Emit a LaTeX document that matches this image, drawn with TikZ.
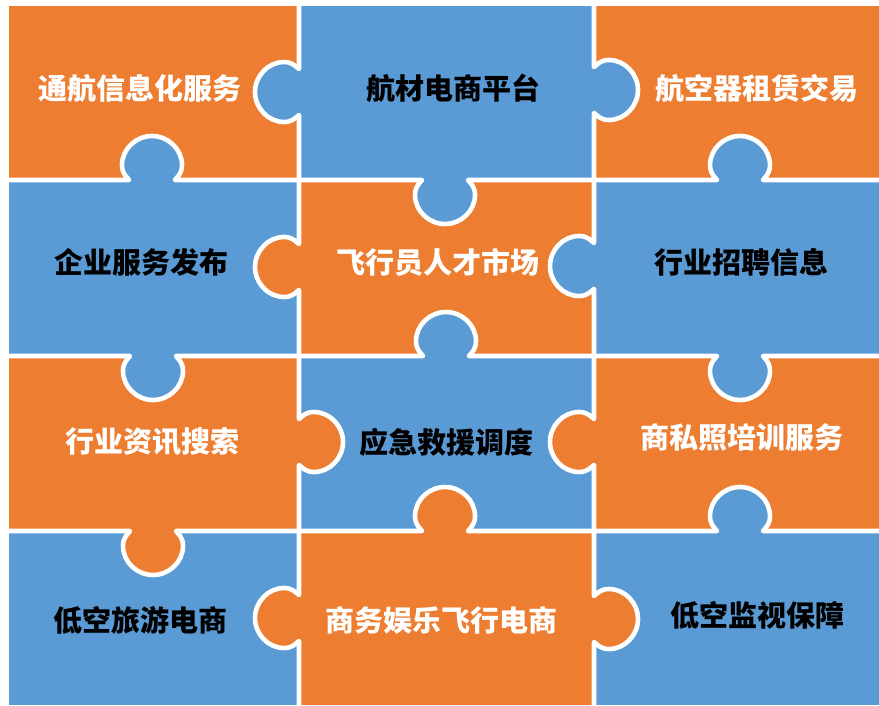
\documentclass[tikz,border=0pt]{standalone}
\usepackage{fontspec}
\newfontfamily\cjk{Noto Sans CJK SC}
\definecolor{pzorange}{HTML}{ED7D31}
\definecolor{pzblue}{HTML}{5B9BD5}
% tab on a vertical seam at x=#1, centre y=#2, bulging towards x direction #3
\newcommand\tabV[3]{%
 -- ({#1},{#2-23})
 .. controls ({#1+(#3)*3},{#2-25}) and ({#1+(#3)*6},{#2-30}) .. ({#1+(#3)*15},{#2-30})
 .. controls ({#1+(#3)*31},{#2-30}) and ({#1+(#3)*44},{#2-16}) .. ({#1+(#3)*44},{#2})
 .. controls ({#1+(#3)*44},{#2+16}) and ({#1+(#3)*31},{#2+30}) .. ({#1+(#3)*15},{#2+30})
 .. controls ({#1+(#3)*6},{#2+30}) and ({#1+(#3)*3},{#2+25}) .. ({#1},{#2+23})}
% tab on a horizontal seam at y=#2, centre x=#1, bulging towards y direction #3
\newcommand\tabH[3]{%
 -- ({#1-23},{#2})
 .. controls ({#1-25},{#2+(#3)*3}) and ({#1-30},{#2+(#3)*6}) .. ({#1-30},{#2+(#3)*15})
 .. controls ({#1-30},{#2+(#3)*31}) and ({#1-16},{#2+(#3)*44}) .. ({#1},{#2+(#3)*44})
 .. controls ({#1+16},{#2+(#3)*44}) and ({#1+30},{#2+(#3)*31}) .. ({#1+30},{#2+(#3)*15})
 .. controls ({#1+30},{#2+(#3)*6}) and ({#1+25},{#2+(#3)*3}) .. ({#1+23},{#2})}
\tikzset{
 seam/.style={draw=white,line width=4.6pt,line join=round},
 wt/.style={font=\cjk\bfseries\fontsize{29}{31}\selectfont,text=white,inner sep=0pt},
 bt/.style={font=\cjk\bfseries\fontsize{29}{31}\selectfont,text=black,inner sep=0pt}
}
\begin{document}
\begin{tikzpicture}[x=1pt,y=-1pt]
\useasboundingbox (0,0) rectangle (879,705);
\fill[white] (0,0) rectangle (879,705);
% cells
\fill[pzorange] (9,6) rectangle (299,180);
\fill[pzblue]   (299,6) rectangle (594,180);
\fill[pzorange] (594,6) rectangle (879,180);
\fill[pzblue]   (9,180) rectangle (299,356);
\fill[pzorange] (299,180) rectangle (594,356);
\fill[pzblue]   (594,180) rectangle (879,356);
\fill[pzorange] (9,356) rectangle (299,531);
\fill[pzblue]   (299,356) rectangle (594,531);
\fill[pzorange] (594,356) rectangle (879,531);
\fill[pzblue]   (9,531) rectangle (299,705);
\fill[pzorange] (299,531) rectangle (594,705);
\fill[pzblue]   (594,531) rectangle (879,705);
% tabs
\fill[pzblue]   (299,92) \tabV{299}{92}{-1} -- cycle;
\fill[pzorange] (299,267) \tabV{299}{267}{-1} -- cycle;
\fill[pzorange] (299,442) \tabV{299}{442}{1} -- cycle;
\fill[pzorange] (299,618) \tabV{299}{618}{-1} -- cycle;
\fill[pzblue]   (594,90) \tabV{594}{90}{1} -- cycle;
\fill[pzblue]   (594,266) \tabV{594}{266}{-1} -- cycle;
\fill[pzorange] (594,442) \tabV{594}{442}{-1} -- cycle;
\fill[pzorange] (594,619) \tabV{594}{619}{1} -- cycle;
\fill[pzblue]   (152,180) \tabH{152}{180}{-1} -- cycle;
\fill[pzblue]   (445,180) \tabH{445}{180}{1} -- cycle;
\fill[pzblue]   (740,180) \tabH{740}{180}{-1} -- cycle;
\fill[pzblue]   (153,356) \tabH{153}{356}{1} -- cycle;
\fill[pzblue]   (446,356) \tabH{446}{356}{-1} -- cycle;
\fill[pzblue]   (740,356) \tabH{740}{356}{1} -- cycle;
\fill[pzorange] (153,531) \tabH{153}{531}{1} -- cycle;
\fill[pzorange] (445,531) \tabH{445}{531}{-1} -- cycle;
\fill[pzblue]   (740,531) \tabH{740}{531}{-1} -- cycle;
% seams
\path[seam] (299,0) \tabV{299}{92}{-1} \tabV{299}{267}{-1} \tabV{299}{442}{1} \tabV{299}{618}{-1} -- (299,705);
\path[seam] (594,0) \tabV{594}{90}{1} \tabV{594}{266}{-1} \tabV{594}{442}{-1} \tabV{594}{619}{1} -- (594,705);
\path[seam] (0,180) \tabH{152}{180}{-1} \tabH{445}{180}{1} \tabH{740}{180}{-1} -- (879,180);
\path[seam] (0,356) \tabH{153}{356}{1} \tabH{446}{356}{-1} \tabH{740}{356}{1} -- (879,356);
\path[seam] (0,531) \tabH{153}{531}{1} \tabH{445}{531}{-1} \tabH{740}{531}{-1} -- (879,531);
% labels
\node[wt] (t11) at (140,88) {通航信息化服务};
\node[bt] (t12) at (453,88) {航材电商平台};
\node[wt] (t13) at (757,88) {航空器租赁交易};
\node[bt] (t21) at (141,262) {企业服务发布};
\node[wt] (t22) at (438,262) {飞行员人才市场};
\node[bt] (t23) at (741,262) {行业招聘信息};
\node[wt] (t31) at (152,442) {行业资讯搜索};
\node[bt] (t32) at (446,442) {应急救援调度};
\node[wt] (t33) at (742,437) {商私照培训服务};
\node[bt] (t41) at (140,620) {低空旅游电商};
\node[wt] (t42) at (441,620) {商务娱乐飞行电商};
\node[bt] (t43) at (757,615) {低空监视保障};
\end{tikzpicture}
\end{document}
